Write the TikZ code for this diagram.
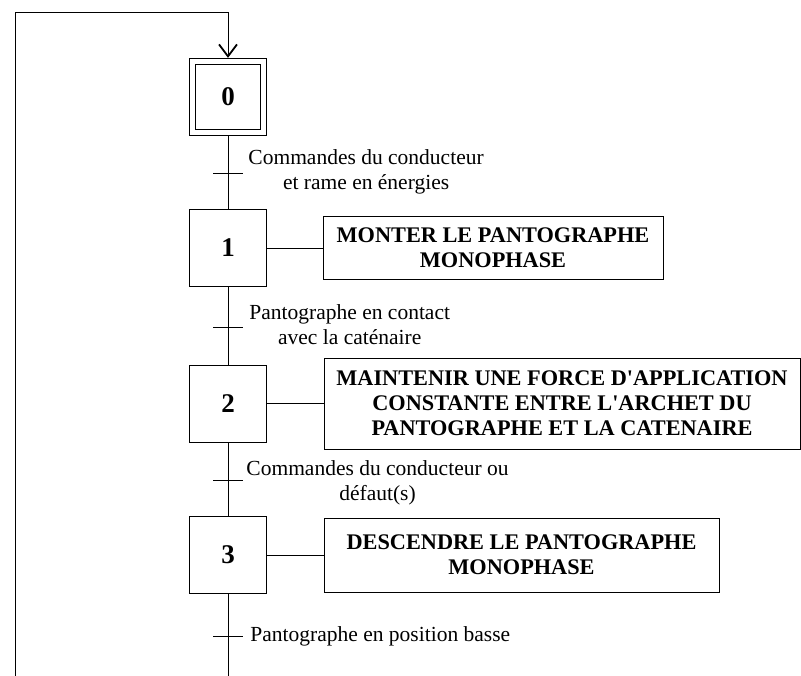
\documentclass[tikz,border=0pt]{standalone}
\usepackage{fontspec}
\setmainfont{Liberation Serif}
\usetikzlibrary{arrows.meta}

\begin{document}
\begin{tikzpicture}[
  x=1pt, y=-1pt,
  line width=0.9pt,
  stepbox/.style={
    draw, minimum width=77pt, minimum height=77pt,
    inner sep=0pt, font=\fontsize{27}{30}\selectfont\bfseries,
  },
  initstep/.style={stepbox, minimum width=71pt, minimum height=71pt,
    double, double distance=5.5pt, outer sep=3.6pt},
  action/.style={draw, align=center, inner sep=0pt,
    font=\fontsize{22.3}{25}\selectfont\bfseries},
  cond/.style={align=center, inner sep=0pt, anchor=west,
    font=\fontsize{21.5}{25}\selectfont},
  trans/.style={line width=0.9pt},
]

\def\sx{228}
\useasboundingbox (0,0) rectangle (801,676);

% ── steps ────────────────────────────────────────────────
\node[initstep] (step0) at (\sx, 97) {0};
\node[stepbox]  (step1) at (\sx, 248) {1};
\node[stepbox]  (step2) at (\sx, 403.5) {2};
\node[stepbox]  (step3) at (\sx, 555) {3};

% ── actions ──────────────────────────────────────────────
\node[action, minimum width=340pt, minimum height=63pt] (act1) at (493, 248)
  {MONTER LE PANTOGRAPHE\\MONOPHASE};
\node[action, minimum width=476pt, minimum height=91pt] (act2) at (562, 403.5)
  {MAINTENIR UNE FORCE D\textquotesingle APPLICATION\\CONSTANTE ENTRE L\textquotesingle ARCHET DU\\PANTOGRAPHE ET LA CATENAIRE};
\node[action, minimum width=395pt, minimum height=74pt] (act3) at (521.5, 555)
  {DESCENDRE LE PANTOGRAPHE\\MONOPHASE};

\draw (step1) -- (act1);
\draw (step2) -- (act2);
\draw (step3) -- (act3);

% ── transitions ──────────────────────────────────────────
\coordinate (t01) at (\sx, 173);
\coordinate (t12) at (\sx, 327);
\coordinate (t23) at (\sx, 480);
\coordinate (t30) at (\sx, 636);

\draw (step0) -- (step1);
\draw (step1) -- (step2);
\draw (step2) -- (step3);

\foreach \t in {t01, t12, t23, t30}
  \draw[trans] ([xshift=-15pt]\t) -- ([xshift=15pt]\t);

\node[cond] (c01) at (248, 171.5) {Commandes du conducteur\\et rame en énergies};
\node[cond] (c12) at (249, 325) {Pantographe en contact\\avec la caténaire};
\node[cond] (c23) at (246, 483) {Commandes du conducteur ou\\défaut(s)};
\node[cond] (c30) at (250, 636) {Pantographe en position basse};

% ── loop back to the initial step ────────────────────────
\coordinate (bot)  at (\sx, 676);
\coordinate (botl) at (15, 676);
\coordinate (topl) at (15, 12);
\coordinate (topr) at (\sx, 12);

\draw (step3) -- (bot);
\draw[-{Straight Barb[length=12pt, width=18pt, line width=1.8pt]}]
  (botl) -- (topl) -- (topr) -- (step0);

\end{tikzpicture}
\end{document}
